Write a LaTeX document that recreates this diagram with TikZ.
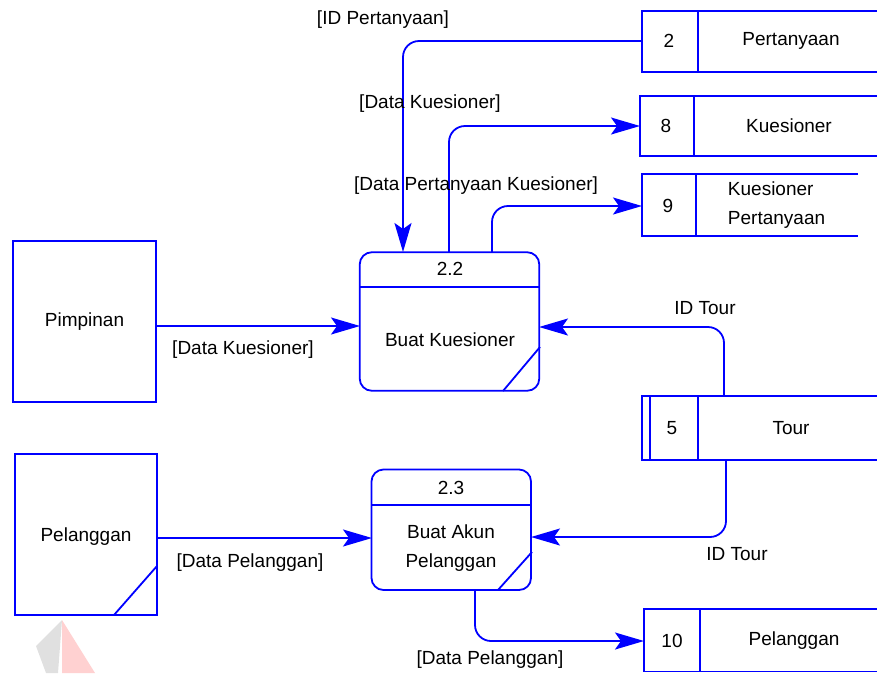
\documentclass[tikz,border=0pt]{standalone}
\usepackage{fontspec}
\setmainfont{Liberation Sans}
\usetikzlibrary{arrows.meta,positioning}

\definecolor{dfdblue}{RGB}{0,0,255}

\tikzset{
  line/.style={draw=dfdblue, line width=1.8pt},
  txt/.style={inner sep=0.75pt, font=\fontsize{19}{29}\selectfont, align=center},
  entity/.style={line, rectangle, inner sep=0pt, txt},
  process/.style={line, rectangle, rounded corners=12pt, inner sep=0pt},
  flow/.style={line, rounded corners=16pt, -{Stealth[length=29pt,width=17pt,inset=6pt]}},
}

\begin{document}
\begin{tikzpicture}[x=1pt,y=-1pt]
\useasboundingbox (0,0) rectangle (877,673);

%Watermark fragment
\fill[black!12] (62,620) -- (36,646) -- (46,673) -- (58,673) -- cycle;
\fill[red!18] (62,620) -- (62,673) -- (95,673) -- cycle;

%External entities
\node[entity, minimum width=143, minimum height=161] (pimpinan) at (84.5,321.5) {Pimpinan};
\node[entity, minimum width=142, minimum height=161, text depth=0pt] (pelanggan) at (86,534.5) {Pelanggan};
\draw[line] (157,566) -- (114,615);

%Process 2.2
\node[process, minimum width=179.5, minimum height=138.5] (p22) at (449.5,321.5) {};
\draw[line] (359.5,287) -- (539,287);
\draw[line] (540,347) -- (503,391);
\node[txt] (p22id) at (450,269) {2.2};
\node[txt] (p22name) at (450,340) {Buat Kuesioner};

%Process 2.3
\node[process, minimum width=159.5, minimum height=120.5] (p23) at (451.25,529.75) {};
\draw[line] (371.5,505) -- (531,505);
\draw[line] (532,552) -- (498,590);
\node[txt] (p23id) at (451,488) {2.3};
\node[txt] (p23name) at (451,548) {Buat Akun\\Pelanggan};

%Data stores
\draw[line] (877,11) -- (642,11) -- (642,72) -- (877,72) (698,11) -- (698,72);
\node[txt] (st2id) at (669,41) {2};
\node[txt] (st2) at (791,41) {Pertanyaan};

\draw[line] (877,96) -- (640,96) -- (640,156) -- (877,156) (694,96) -- (694,156);
\node[txt] (st8id) at (666,126) {8};
\node[txt] (st8) at (789,126) {Kuesioner};

\draw[line] (858,174) -- (642,174) -- (642,236) -- (858,236) (696,174) -- (696,236);
\node[txt] (st9id) at (668,206) {9};
\node[txt, align=left, anchor=west] (st9) at (727,205) {Kuesioner\\Pertanyaan};

\draw[line] (877,396) -- (642,396) -- (642,460) -- (877,460) (650,396) -- (650,460) (698,396) -- (698,460);
\node[txt] (st5id) at (672,428) {5};
\node[txt] (st5) at (791,428) {Tour};

\draw[line] (877,609) -- (644,609) -- (644,671.5) -- (877,671.5) (700,609) -- (700,671.5);
\node[txt] (st10id) at (672,641) {10};
\node[txt] (st10) at (794,641) {Pelanggan};

%Connection points
\coordinate (p22-w) at (360,326);
\coordinate (p22-e) at (539,327);
\coordinate (p22-n1) at (403,252);
\coordinate (p22-n2) at (449,252);
\coordinate (p22-n3) at (492,252);
\coordinate (p23-w) at (372,538);
\coordinate (p23-e) at (531,537);
\coordinate (p23-s) at (475,590);
\coordinate (st2-w) at (642,41);
\coordinate (st8-w) at (640,126);
\coordinate (st9-w) at (642,206);
\coordinate (st5-n) at (724,396);
\coordinate (st5-s) at (726,460);
\coordinate (st10-w) at (644,641);

%Flows
\draw[flow] (st2-w) -| (p22-n1);
\draw[flow] (p22-n2) |- (st8-w);
\draw[flow] (p22-n3) |- (st9-w);
\draw[flow] (pimpinan.east |- p22-w) -- (p22-w);
\draw[flow] (st5-n) |- (p22-e);
\draw[flow] (st5-s) |- (p23-e);
\draw[flow] (pelanggan.east |- p23-w) -- (p23-w);
\draw[flow] (p23-s) |- (st10-w);

%Flow labels
\node[txt] (lidq) at (383,20) {[ID Pertanyaan]};
\node[txt] (ldk1) at (430,104) {[Data Kuesioner]};
\node[txt] (ldpk) at (476,186) {[Data Pertanyaan Kuesioner]};
\node[txt] (ldk2) at (243,350) {[Data Kuesioner]};
\node[txt] (lidt1) at (705,308) {ID Tour};
\node[txt] (lidt2) at (737,554) {ID Tour};
\node[txt] (ldp1) at (250,563) {[Data Pelanggan]};
\node[txt] (ldp2) at (490,660) {[Data Pelanggan]};
\end{tikzpicture}
\end{document}
